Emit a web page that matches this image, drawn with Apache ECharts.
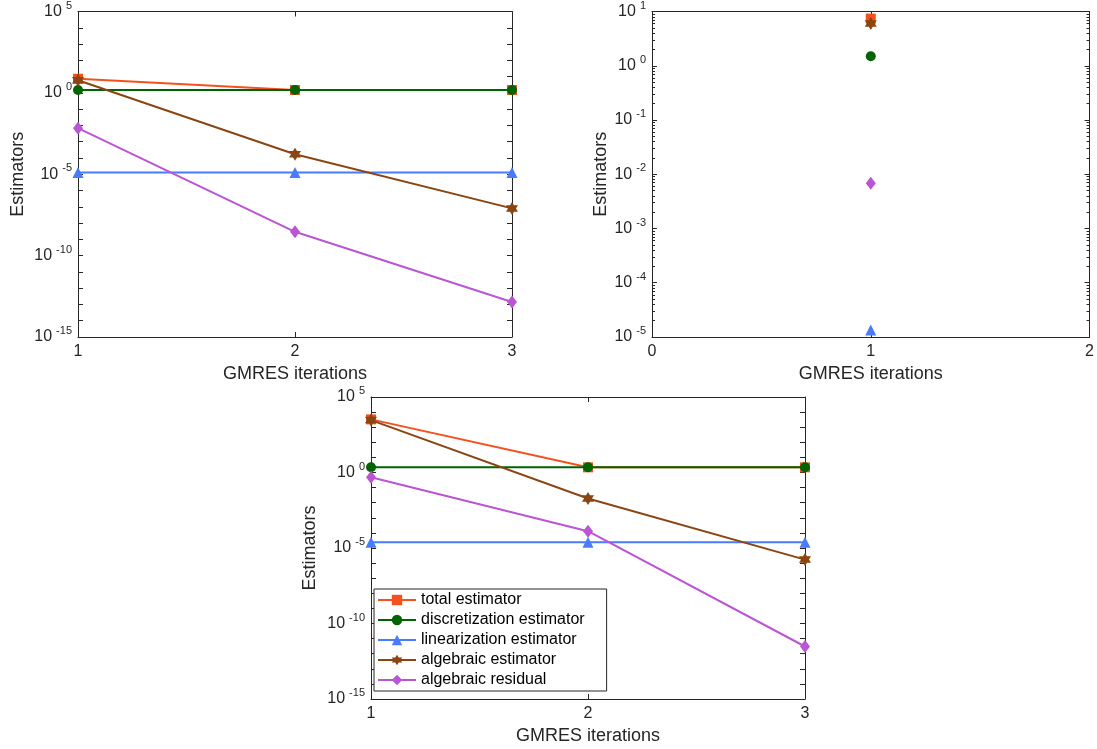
<!DOCTYPE html>
<html><head><meta charset="utf-8">
<script src="https://cdn.jsdelivr.net/npm/echarts@6/dist/echarts.min.js"></script>
<style>html,body{margin:0;padding:0;background:#fff}#c{width:1097px;height:749px}</style>
</head><body><div id="c"></div>
<script>
// ---------- data ----------
const names = ['total estimator', 'discretization estimator', 'linearization estimator', 'algebraic estimator', 'algebraic residual'];

// top-left panel
const iterA  = [1, 2, 3];
const totalA = [7.4, 1.5, 1.5];
const discA  = [1.5, 1.5, 1.5];
const linA   = [1.3e-5, 1.3e-5, 1.3e-5];
const algA   = [6.0, 1.7e-4, 8e-8];
const resA   = [6.8e-3, 2.9e-9, 1.4e-13];

// top-right panel
const iterB  = [1];
const totalB = [7.4];
const discB  = [1.5];
const linB   = [1.35e-5];
const algB   = [6.0];
const resB   = [6.8e-3];

// bottom panel
const iterC  = [1, 2, 3];
const totalC = [3300, 2.2, 2.2];
const discC  = [2.2, 2.2, 2.2];
const linC   = [2.4e-5, 2.4e-5, 2.4e-5];
const algC   = [2950, 0.019, 1.7e-6];
const resC   = [0.49, 1.3e-4, 3e-12];

// ticks
const xTicksAC = [1, 2, 3];
const xTicksB  = [0, 1, 2];
const yTicksAC = [1e-15,1e-14,1e-13,1e-12,1e-11,1e-10,1e-9,1e-8,1e-7,1e-6,1e-5,1e-4,1e-3,1e-2,1e-1,1,10,100,1000,1e4,1e5];
const yLabelsAC = [1e-15, 1e-10, 1e-5, 1, 1e5];
const yTicksB  = [1e-5, 1e-4, 1e-3, 1e-2, 1e-1, 1, 10];
const yLabelsB = [1e-5, 1e-4, 1e-3, 1e-2, 1e-1, 1, 10];
const minorMult = [2,3,4,5,6,7,8,9];

// ---------- styling ----------
const FONT = '"Liberation Sans", Arial, Helvetica, sans-serif';
const AX = '#262626';
const colors = ['#F4511E', '#006400', '#4A7BFF', '#8B4513', '#BA55D3'];
const hexagram = 'path://M10,0 L12.89,5 L18.66,5 L15.77,10 L18.66,15 L12.89,15 L10,20 L7.11,15 L1.34,15 L4.23,10 L1.34,5 L7.11,5 Z';
const symbols = ['rect', 'circle', 'triangle', hexagram, 'diamond'];
const symSizes = [10, 10, 11, [12, 13], [10, 13]];

const minorB = [];
yTicksB.slice(0, -1).forEach(d => minorMult.forEach(m => minorB.push(+(d * m).toPrecision(3))));

function logLabel(v) {
  const e = Math.round(Math.log10(v));
  return '{b|10}{s|' + e + '}';
}
const richLab = {
  b: { fontSize: 16, color: AX, fontFamily: FONT },
  s: { fontSize: 11, color: AX, fontFamily: FONT, padding: [0, 0, 12, 4] }
};

const grids = [
  { left: 78, top: 11, width: 434, height: 326 },
  { left: 652, top: 11, width: 442, height: 326 },
  { left: 371, top: 397, width: 434, height: 302 }
];

const xAxes = [], yAxes = [];
function addAxes(g, xmin, xmax, xTicks, ymin, ymax, yTicks, yLabels, yNameGap, minor) {
  const line = { show: true, onZero: false, lineStyle: { color: AX, width: 1 } };
  const xi = xAxes.length;
  xAxes.push({
    gridIndex: g, type: 'value', min: xmin, max: xmax, position: 'bottom',
    name: 'GMRES iterations', nameLocation: 'middle', nameGap: 28,
    nameTextStyle: { fontSize: 18, color: AX, fontFamily: FONT },
    axisLine: line,
    axisTick: { show: true, inside: true, length: 5, customValues: xTicks, lineStyle: { color: AX } },
    axisLabel: { customValues: xTicks, fontSize: 16, color: AX, fontFamily: FONT, margin: 7 },
    splitLine: { show: false }
  });
  xAxes.push({
    gridIndex: g, type: 'value', min: xmin, max: xmax, position: 'top',
    axisLine: line,
    axisTick: { show: true, inside: true, length: 5, customValues: xTicks, lineStyle: { color: AX } },
    axisLabel: { show: false }, splitLine: { show: false }
  });
  const yi = yAxes.length;
  yAxes.push({
    gridIndex: g, type: 'log', logBase: 10, min: ymin, max: ymax, position: 'left',
    name: 'Estimators', nameLocation: 'middle', nameGap: yNameGap,
    nameTextStyle: { fontSize: 18, color: AX, fontFamily: FONT },
    axisLine: line,
    axisTick: { show: true, inside: true, length: 5, customValues: yTicks, lineStyle: { color: AX } },
    axisLabel: { customValues: yLabels, formatter: logLabel, rich: richLab, margin: 6 },
    splitLine: { show: false }, minorTick: { show: false }
  });
  yAxes.push({
    gridIndex: g, type: 'log', logBase: 10, min: ymin, max: ymax, position: 'right',
    axisLine: line,
    axisTick: { show: true, inside: true, length: 5, customValues: yTicks, lineStyle: { color: AX } },
    axisLabel: { show: false }, splitLine: { show: false }
  });
  if (minor) {
    ['left', 'right'].forEach(p => yAxes.push({
      gridIndex: g, type: 'log', logBase: 10, min: ymin, max: ymax, position: p,
      axisLine: { show: false, onZero: false },
      axisTick: { show: true, inside: true, length: 3, customValues: minor, lineStyle: { color: AX } },
      axisLabel: { show: false }, splitLine: { show: false }
    }));
  }
  return { xi, yi };
}

const axA = addAxes(0, 1, 3, xTicksAC, 1e-15, 1e5, yTicksAC, yLabelsAC, 51, null);
const axB = addAxes(1, 0, 2, xTicksB, 1e-5, 10, yTicksB, yLabelsB, 42, minorB);
const axC = addAxes(2, 1, 3, xTicksAC, 1e-15, 1e5, yTicksAC, yLabelsAC, 52, null);

const series = [];
function addSeries(ax, iters, arrs) {
  arrs.forEach((vals, k) => {
    series.push({
      name: names[k], type: 'line', xAxisIndex: ax.xi, yAxisIndex: ax.yi,
      data: iters.map((x, i) => [x, vals[i]]),
      symbol: symbols[k], symbolSize: symSizes[k], showSymbol: true,
      lineStyle: { color: colors[k], width: 2 },
      itemStyle: { color: colors[k] },
      emphasis: { disabled: true }, z: 2 + k
    });
  });
}
addSeries(axA, iterA, [totalA, discA, linA, algA, resA]);
addSeries(axB, iterB, [totalB, discB, linB, algB, resB]);
addSeries(axC, iterC, [totalC, discC, linC, algC, resC]);

const chart = echarts.init(document.getElementById('c'), null, { renderer: 'canvas' });
chart.setOption({
  animation: false,
  backgroundColor: '#fff',
  grid: grids,
  xAxis: xAxes,
  yAxis: yAxes,
  legend: {
    data: names, orient: 'vertical', left: 374, top: 589,
    padding: [3, 22, 3, 3], itemGap: 4, itemWidth: 38, itemHeight: 13,
    textStyle: { fontSize: 16, color: '#000', fontFamily: FONT, lineHeight: 16 },
    borderColor: AX, borderWidth: 1, backgroundColor: '#fff', selectedMode: false, z: 20
  },
  series: series
});
</script>
</body></html>
